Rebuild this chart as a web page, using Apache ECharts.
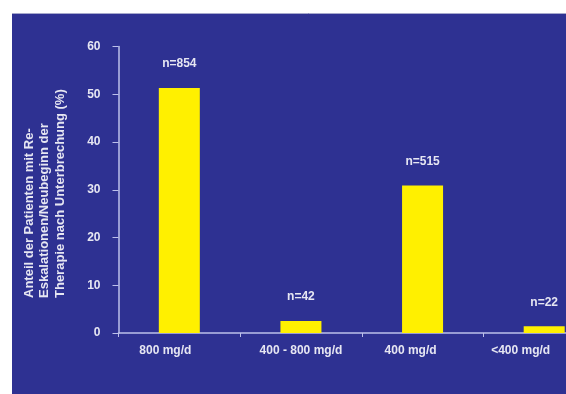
<!DOCTYPE html>
<html>
<head>
<meta charset="utf-8">
<script src="https://cdn.jsdelivr.net/npm/echarts@6/dist/echarts.min.js"></script>
<style>
  html, body { margin: 0; padding: 0; background: #ffffff; width: 566px; height: 394px; overflow: hidden; }
  /* the plot runs past the right edge of the window, so the canvas is wider than the page */
  #chart { width: 605px; height: 394px; }
</style>
</head>
<body>
<div id="chart"></div>
<script>
// Dose groups and share of patients with re-escalation / restart of therapy (%)
const categories = ['800 mg/d', '400 - 800 mg/d', '400 mg/d', '<400 mg/d'];
const shares = [51.3, 2.5, 30.9, 1.4];
const groupSizes = ['n=854', 'n=42', 'n=515', 'n=22'];
const yTicks = { min: 0, max: 60, step: 10 };
const yTitle = 'Anteil der Patienten mit Re-\nEskalationen/Neubeginn der\nTherapie nach Unterbrechung (%)';

// category labels sit a little left of their bars (extra right padding, px)
const labelNudge = [28, 0, 24, 47];

const panelBlue = '#2e3192';
const barYellow = '#fff000';
const lineColor = '#bcc0ea';
const textColor = '#e6e6f2';
const font = '"Liberation Sans", Arial, sans-serif';

const chart = echarts.init(document.getElementById('chart'), null, { renderer: 'canvas' });

chart.setOption({
  backgroundColor: '#ffffff',
  animation: false,
  graphic: [
    {
      type: 'rect',
      z: -10,
      shape: { x: 12, y: 13, width: 600, height: 390 },
      style: { fill: panelBlue }
    },
    {
      type: 'line',
      z: -9,
      shape: { x1: 12, y1: 13.5, x2: 605, y2: 13.5 },
      style: { stroke: '#a6a8cc', lineWidth: 1 }
    },
    {
      // rotated axis title, lines flush at the bottom
      type: 'text',
      x: 21.5,
      y: 298,
      rotation: Math.PI / 2,
      style: {
        text: yTitle,
        fill: textColor,
        font: 'bold 13px ' + font,
        lineHeight: 15.5,
        align: 'left',
        verticalAlign: 'top'
      }
    }
  ],
  grid: { left: 118.5, top: 46.5, bottom: 61, right: 0 },
  xAxis: {
    type: 'category',
    data: categories.map((c, i) => ({
      value: c,
      textStyle: { padding: [0, labelNudge[i], 0, 0] }
    })),
    axisLine: { lineStyle: { color: lineColor, width: 1.5 } },
    axisTick: { show: true, length: 4, lineStyle: { color: lineColor } },
    axisLabel: {
      color: textColor, fontFamily: font, fontWeight: 'bold', fontSize: 12, margin: 12
    }
  },
  yAxis: {
    type: 'value',
    min: yTicks.min,
    max: yTicks.max,
    interval: yTicks.step,
    splitLine: { show: false },
    axisLine: { show: true, lineStyle: { color: lineColor, width: 1.5 } },
    axisTick: { show: true, length: 6, lineStyle: { color: lineColor } },
    axisLabel: {
      color: textColor, fontFamily: font, fontWeight: 'bold', fontSize: 12, margin: 18
    }
  },
  series: [{
    type: 'bar',
    data: shares,
    barWidth: 41,
    itemStyle: { color: barYellow },
    label: {
      show: true,
      position: 'top',
      distance: 18,
      color: textColor,
      fontFamily: font,
      fontWeight: 'bold',
      fontSize: 12,
      formatter: p => groupSizes[p.dataIndex]
    }
  }]
});
</script>
</body>
</html>
